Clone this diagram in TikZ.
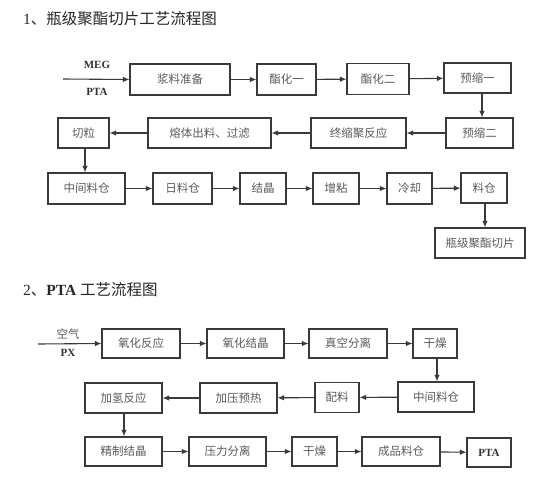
\documentclass[tikz,border=0pt]{standalone}
\usepackage{fontspec}
\setmainfont{Liberation Serif}
\newfontfamily\cjk{Noto Sans CJK SC}
\usetikzlibrary{arrows.meta}
\definecolor{boxtext}{HTML}{5A5A5A}
\definecolor{linec}{HTML}{3A3A3A}
\tikzset{
  box/.style={draw=linec, line width=1.1pt, inner sep=0pt, font=\cjk\fontsize{11.5}{12}\selectfont, text=boxtext},
  flow/.style={draw=linec, line width=1.1pt, -{Latex[length=6.5pt,width=5.5pt]}},
  lab/.style={font=\bfseries\fontsize{11}{12}\selectfont, text=black!80, inner sep=0pt},
  title/.style={font=\fontsize{15.5}{16}\selectfont, text=black!85, inner sep=0pt, anchor=west}
}
\begin{document}
\begin{tikzpicture}[x=1pt,y=-1pt]
\useasboundingbox (0,0) rectangle (554,493);
% titles
\node[title] (t1) at (23,19) {1{\cjk 、瓶级聚酯切片工艺流程图}};
\node[title] (t2) at (23,290) {2{\cjk 、}\textbf{PTA} {\cjk 工艺流程图}};
% section 1
\coordinate (in1) at (63,79);
\node[lab] (meg) at (97,65) {MEG};
\node[lab] (pta1) at (97,92) {PTA};
\node[box, minimum width=100pt, minimum height=31pt] (slurry) at (180,79.5) {浆料准备};
\node[box, minimum width=59pt, minimum height=31pt] (est1) at (286.5,79.5) {酯化一};
\node[box, minimum width=62pt, minimum height=31pt] (est2) at (378,79) {酯化二};
\node[box, minimum width=67pt, minimum height=30pt] (pre1) at (477.5,78) {预缩一};
\node[box, minimum width=67pt, minimum height=30pt] (pre2) at (479.5,133) {预缩二};
\node[box, minimum width=95pt, minimum height=30pt] (final) at (358.5,133) {终缩聚反应};
\node[box, minimum width=123pt, minimum height=30pt] (melt) at (209.5,133) {熔体出料、过滤};
\node[box, minimum width=51pt, minimum height=30pt] (cut) at (83.5,133) {切粒};
\node[box, minimum width=77pt, minimum height=31pt] (mid) at (86.5,188.5) {中间料仓};
\node[box, minimum width=59pt, minimum height=31pt] (day) at (182.5,188.5) {日料仓};
\node[box, minimum width=46pt, minimum height=31pt] (cryst) at (263,188.5) {结晶};
\node[box, minimum width=46pt, minimum height=31pt] (visc) at (336,188.5) {增粘};
\node[box, minimum width=45pt, minimum height=31pt] (cool) at (409.5,188.5) {冷却};
\node[box, minimum width=46pt, minimum height=30pt] (bin) at (484,188) {料仓};
\node[box, minimum width=90pt, minimum height=30pt] (bottle) at (480,243) {瓶级聚酯切片};
\draw[flow] (in1) -- (slurry.west);
\draw[flow] (slurry) -- (est1);
\draw[flow] (est1) -- (est2);
\draw[flow] (est2) -- (pre1);
\draw[flow] (pre1.south -| 482,0) -- (pre2.north -| 482,0);
\draw[flow] (pre2) -- (final);
\draw[flow] (final) -- (melt);
\draw[flow] (melt) -- (cut);
\draw[flow] (cut.south -| 85,0) -- (mid.north -| 85,0);
\draw[flow] (mid) -- (day);
\draw[flow] (day) -- (cryst);
\draw[flow] (cryst) -- (visc);
\draw[flow] (visc) -- (cool);
\draw[flow] (cool) -- (bin);
\draw[flow] (bin.south -| 485,0) -- (bottle.north -| 485,0);
% section 2
\coordinate (in2) at (38,344);
\node[font=\cjk\fontsize{11.5}{12}\selectfont, text=boxtext, inner sep=0pt] (air) at (68,334) {空气};
\node[lab] (px) at (68,353) {PX};
\node[box, minimum width=78pt, minimum height=29pt] (ox) at (141,343.5) {氧化反应};
\node[box, minimum width=77pt, minimum height=29pt] (oxc) at (245.5,343.5) {氧化结晶};
\node[box, minimum width=78pt, minimum height=29pt] (vac) at (348,343.5) {真空分离};
\node[box, minimum width=44pt, minimum height=29pt] (dry) at (435,343.5) {干燥};
\node[box, minimum width=76pt, minimum height=30pt] (mid2) at (436,397) {中间料仓};
\node[box, minimum width=44pt, minimum height=30pt] (mix) at (337,397.5) {配料};
\node[box, minimum width=77pt, minimum height=30pt] (prh) at (238.5,398) {加压预热};
\node[box, minimum width=77pt, minimum height=30pt] (hyd) at (123.5,398) {加氢反应};
\node[box, minimum width=77pt, minimum height=29pt] (ref) at (123.5,451.5) {精制结晶};
\node[box, minimum width=77pt, minimum height=29pt] (psep) at (227.5,451.5) {压力分离};
\node[box, minimum width=45pt, minimum height=29pt] (dry2) at (314.5,451.5) {干燥};
\node[box, minimum width=78pt, minimum height=29pt] (prod) at (401,451.5) {成品料仓};
\node[box, minimum width=44pt, minimum height=29pt, font=\bfseries\fontsize{11}{12}\selectfont, text=black!80] (pta2) at (489,452.5) {PTA};
\draw[flow] (in2) -- (ox.west);
\draw[flow] (ox) -- (oxc);
\draw[flow] (oxc) -- (vac);
\draw[flow] (vac) -- (dry);
\draw[flow] (dry.south -| 437,0) -- (mid2.north -| 437,0);
\draw[flow] (mid2) -- (mix);
\draw[flow] (mix) -- (prh);
\draw[flow] (prh) -- (hyd);
\draw[flow] (hyd.south -| 124,0) -- (ref.north -| 124,0);
\draw[flow] (ref) -- (psep);
\draw[flow] (psep) -- (dry2);
\draw[flow] (dry2) -- (prod);
\draw[flow] (prod) -- (pta2);
\end{tikzpicture}
\end{document}
